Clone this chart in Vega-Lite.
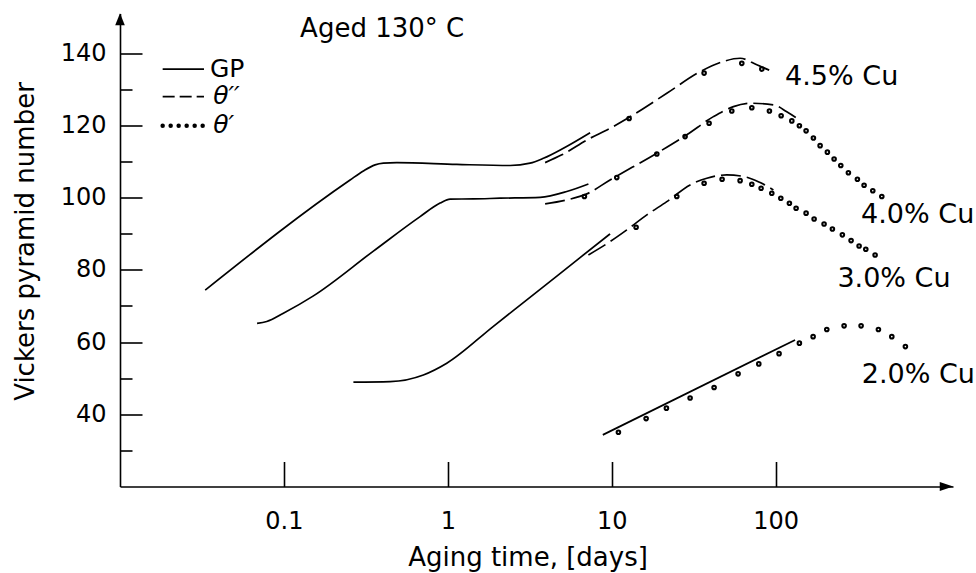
{
  "$schema": "https://vega.github.io/schema/vega-lite/v6.json",
  "width": 833,
  "height": 473,
  "autosize": {"type": "none"},
  "padding": {"left": 120, "top": 13.5, "right": 23, "bottom": 86.5},
  "background": "white",
  "config": {
    "view": {"stroke": null},
    "font": "DejaVu Sans",
    "text": {"font": "DejaVu Sans", "fontSize": 26, "color": "black"}
  },
  "datasets": {
    "curves": [
      {"c": "A", "k": "GP", "x": 0.0331, "y": 74.4},
      {"c": "A", "k": "GP", "x": 0.2534, "y": 104.9},
      {"c": "A", "k": "GP", "x": 0.3055, "y": 107.4},
      {"c": "A", "k": "GP", "x": 0.36, "y": 109.07},
      {"c": "A", "k": "GP", "x": 0.4046, "y": 109.54},
      {"c": "A", "k": "GP", "x": 0.4886, "y": 109.7},
      {"c": "A", "k": "GP", "x": 1.135, "y": 109.2},
      {"c": "A", "k": "GP", "x": 2.4, "y": 108.9},
      {"c": "A", "k": "GP", "x": 3.178, "y": 109.54},
      {"c": "A", "k": "GP", "x": 3.831, "y": 110.9},
      {"c": "A", "k": "GP", "x": 5.074, "y": 113.7},
      {"c": "A", "k": "GP", "x": 7.383, "y": 118.0},
      {"c": "A", "k": "T2", "x": 3.925, "y": 109.7},
      {"c": "A", "k": "T2", "x": 4.962, "y": 111.85},
      {"c": "A", "k": "T2", "x": 7.21, "y": 116.2},
      {"c": "A", "k": "T2", "x": 9.777, "y": 119.2},
      {"c": "A", "k": "T2", "x": 12.95, "y": 122.4},
      {"c": "A", "k": "T2", "x": 21.69, "y": 128.9},
      {"c": "A", "k": "T2", "x": 34.63, "y": 134.9},
      {"c": "A", "k": "T2", "x": 47.83, "y": 137.7},
      {"c": "A", "k": "T2", "x": 60.74, "y": 138.6},
      {"c": "A", "k": "T2", "x": 76.8, "y": 136.8},
      {"c": "A", "k": "T2", "x": 92.55, "y": 135.2},
      {"c": "B", "k": "GP", "x": 0.0686, "y": 65.2},
      {"c": "B", "k": "GP", "x": 0.0786, "y": 65.7},
      {"c": "B", "k": "GP", "x": 0.0993, "y": 68.0},
      {"c": "B", "k": "GP", "x": 0.1514, "y": 72.8},
      {"c": "B", "k": "GP", "x": 0.3516, "y": 85.2},
      {"c": "B", "k": "GP", "x": 0.6776, "y": 94.75},
      {"c": "B", "k": "GP", "x": 0.8974, "y": 98.5},
      {"c": "B", "k": "GP", "x": 1.033, "y": 99.6},
      {"c": "B", "k": "GP", "x": 1.433, "y": 99.65},
      {"c": "B", "k": "GP", "x": 2.085, "y": 99.85},
      {"c": "B", "k": "GP", "x": 3.658, "y": 100.1},
      {"c": "B", "k": "GP", "x": 5.32, "y": 101.7},
      {"c": "B", "k": "GP", "x": 7.21, "y": 103.8},
      {"c": "B", "k": "T2", "x": 3.925, "y": 98.27},
      {"c": "B", "k": "T2", "x": 5.32, "y": 99.37},
      {"c": "B", "k": "T2", "x": 7.05, "y": 101.04},
      {"c": "B", "k": "T2", "x": 9.77, "y": 104.9},
      {"c": "B", "k": "T2", "x": 18.85, "y": 112.3},
      {"c": "B", "k": "T2", "x": 28.7, "y": 117.4},
      {"c": "B", "k": "T2", "x": 41.74, "y": 122.44},
      {"c": "B", "k": "T2", "x": 55.3, "y": 125.2},
      {"c": "B", "k": "T2", "x": 71.6, "y": 126.15},
      {"c": "B", "k": "T2", "x": 96.96, "y": 125.7},
      {"c": "B", "k": "T2", "x": 117, "y": 123.8},
      {"c": "B", "k": "T2", "x": 137.7, "y": 121.7},
      {"c": "C", "k": "GP", "x": 0.2655, "y": 48.9},
      {"c": "C", "k": "GP", "x": 0.4446, "y": 49.06},
      {"c": "C", "k": "GP", "x": 0.7097, "y": 50.9},
      {"c": "C", "k": "GP", "x": 0.986, "y": 54.15},
      {"c": "C", "k": "GP", "x": 1.889, "y": 64.3},
      {"c": "C", "k": "GP", "x": 3.658, "y": 74.6},
      {"c": "C", "k": "GP", "x": 6.414, "y": 83.4},
      {"c": "C", "k": "GP", "x": 9.777, "y": 89.96},
      {"c": "C", "k": "T2", "x": 7.21, "y": 84.14},
      {"c": "C", "k": "T2", "x": 9.777, "y": 87.83},
      {"c": "C", "k": "T2", "x": 12.37, "y": 91.07},
      {"c": "C", "k": "T2", "x": 16.38, "y": 95.22},
      {"c": "C", "k": "T2", "x": 21.69, "y": 98.9},
      {"c": "C", "k": "T2", "x": 30.09, "y": 103.53},
      {"c": "C", "k": "T2", "x": 38.04, "y": 105.38},
      {"c": "C", "k": "T2", "x": 50.39, "y": 106.3},
      {"c": "C", "k": "T2", "x": 66.74, "y": 105.66},
      {"c": "C", "k": "T2", "x": 80.43, "y": 104.17},
      {"c": "C", "k": "T2", "x": 96.96, "y": 102.14},
      {"c": "D", "k": "GP", "x": 8.826, "y": 34.3},
      {"c": "D", "k": "GP", "x": 131.5, "y": 60.6}
    ],
    "dots": [
      {"x": 12.77, "y": 121.9}, {"x": 36.63, "y": 134.5}, {"x": 62.2, "y": 137.2}, {"x": 82.4, "y": 135.6},
      {"x": 6.815, "y": 100.3}, {"x": 10.74, "y": 105.55}, {"x": 18.85, "y": 112.1}, {"x": 28.04, "y": 116.9},
      {"x": 39.3, "y": 120.6}, {"x": 54.05, "y": 124.0}, {"x": 71.6, "y": 124.9}, {"x": 91.7, "y": 124.0},
      {"x": 108.1, "y": 122.7}, {"x": 125.6, "y": 121.25}, {"x": 139.7, "y": 119.9}, {"x": 153.5, "y": 118.5},
      {"x": 170.1, "y": 116.5}, {"x": 186.9, "y": 114.4}, {"x": 207, "y": 112.6}, {"x": 227.5, "y": 110.7},
      {"x": 249.9, "y": 108.9}, {"x": 278.1, "y": 106.9}, {"x": 315.6, "y": 105.1}, {"x": 346.7, "y": 103.45},
      {"x": 391.8, "y": 101.9}, {"x": 444.6, "y": 100.3},
      {"x": 14.09, "y": 91.8}, {"x": 24.96, "y": 100.3}, {"x": 36.63, "y": 104.0}, {"x": 47.17, "y": 105.1},
      {"x": 60.74, "y": 104.7}, {"x": 71.6, "y": 103.7}, {"x": 81.6, "y": 102.6}, {"x": 94.8, "y": 101.2},
      {"x": 107.6, "y": 99.84}, {"x": 121.4, "y": 98.46}, {"x": 133.4, "y": 97.08}, {"x": 153.5, "y": 95.7},
      {"x": 171.8, "y": 94.1}, {"x": 197.6, "y": 92.7}, {"x": 222.1, "y": 91.3}, {"x": 255.5, "y": 89.7},
      {"x": 288.8, "y": 88.1}, {"x": 323.2, "y": 86.6}, {"x": 355.1, "y": 85.7}, {"x": 404.7, "y": 84.1},
      {"x": 10.99, "y": 35.04}, {"x": 16.22, "y": 38.8}, {"x": 21.57, "y": 41.7}, {"x": 30.09, "y": 44.5},
      {"x": 42.15, "y": 47.4}, {"x": 59.05, "y": 51.2}, {"x": 78.98, "y": 53.96}, {"x": 105.0, "y": 56.8},
      {"x": 139.7, "y": 59.7}, {"x": 169.4, "y": 61.5}, {"x": 205.3, "y": 63.5}, {"x": 261.8, "y": 64.5},
      {"x": 332.4, "y": 64.5}, {"x": 424, "y": 63.5}, {"x": 511.7, "y": 61.5}, {"x": 619.4, "y": 58.75}
    ],
    "legend": [
      {"s": "solid", "x": 0.01821, "x2": 0.03254, "y": 135.6},
      {"s": "dash", "x": 0.01821, "x2": 0.03254, "y": 128.0},
      {"s": "dot", "x": 0.01821, "x2": 0.03254, "y": 119.9}
    ],
    "labels": [
      {"t": "Aged 130° C", "x": 0.1256, "y": 144.5, "it": "n"},
      {"t": "GP", "x": 0.0354, "y": 133.35, "it": "g"},
      {"t": "θ′′", "x": 0.037, "y": 125.9, "it": "i"},
      {"t": "θ′", "x": 0.037, "y": 117.8, "it": "i"},
      {"t": "4.5% Cu", "x": 114.3, "y": 131.2, "it": "c"},
      {"t": "4.0% Cu", "x": 332.5, "y": 92.9, "it": "c"},
      {"t": "3.0% Cu", "x": 238.3, "y": 75.35, "it": "c"},
      {"t": "2.0% Cu", "x": 335.7, "y": 48.6, "it": "c"}
    ],
    "arrows": [
      {"a": "up", "x": 0.01, "y": 149.4},
      {"a": "right", "x": 1103, "y": 20}
    ]
  },
  "encoding": {
    "x": {
      "field": "x",
      "type": "quantitative",
      "scale": {"type": "log", "domain": [0.01, 1209], "nice": false},
      "axis": {
        "values": [0.1, 1, 10, 100],
        "format": "~g",
        "grid": false,
        "domainColor": "black",
        "domainWidth": 1.6,
        "tickColor": "black",
        "tickWidth": 1.6,
        "tickSize": -25,
        "labelPadding": 47.6,
        "labelFont": "DejaVu Sans",
        "labelFontSize": 24,
        "labelColor": "black",
        "title": "Aging time, [days]",
        "titleFont": "DejaVu Sans",
        "titleFontSize": 26,
        "titleFontWeight": "normal",
        "titleColor": "black",
        "titleX": 407.5,
        "titleY": 79.3,
        "titleAlign": "center",
        "titleBaseline": "alphabetic"
      }
    },
    "y": {
      "field": "y",
      "type": "quantitative",
      "scale": {"domain": [20, 151], "nice": false, "zero": false},
      "axis": {
        "values": [30, 40, 50, 60, 70, 80, 90, 100, 110, 120, 130, 140],
        "labelExpr": "datum.value % 20 === 0 ? datum.label : ''",
        "tickSize": {"condition": {"test": "datum.value % 20 === 0", "value": -22}, "value": -12},
        "labelPadding": 36,
        "grid": false,
        "domainColor": "black",
        "domainWidth": 1.6,
        "tickColor": "black",
        "tickWidth": 1.6,
        "labelFont": "DejaVu Sans",
        "labelFontSize": 24,
        "labelColor": "black",
        "title": "Vickers pyramid number",
        "titleFont": "DejaVu Sans",
        "titleFontSize": 26,
        "titleFontWeight": "normal",
        "titleColor": "black",
        "titleAngle": -90,
        "titleX": -86.7,
        "titleY": 227.5,
        "titleAlign": "center",
        "titleBaseline": "alphabetic"
      }
    }
  },
  "layer": [
    {
      "data": {"name": "curves"},
      "transform": [{"filter": "datum.k === 'GP'"}],
      "mark": {"type": "line", "interpolate": "monotone", "color": "black", "strokeWidth": 1.7},
      "encoding": {"detail": {"field": "c", "type": "nominal"}}
    },
    {
      "data": {"name": "curves"},
      "transform": [{"filter": "datum.k === 'T2'"}],
      "mark": {"type": "line", "interpolate": "monotone", "color": "black", "strokeWidth": 1.7, "strokeDash": [20, 6]},
      "encoding": {"detail": {"field": "c", "type": "nominal"}}
    },
    {
      "data": {"name": "dots"},
      "mark": {"type": "point", "shape": "circle", "filled": false, "stroke": "black", "strokeWidth": 2, "size": 13, "opacity": 1}
    },
    {
      "data": {"name": "legend"},
      "transform": [{"filter": "datum.s === 'solid'"}],
      "mark": {"type": "rule", "color": "black", "strokeWidth": 1.7},
      "encoding": {"x2": {"field": "x2"}}
    },
    {
      "data": {"name": "legend"},
      "transform": [{"filter": "datum.s === 'dash'"}],
      "mark": {"type": "rule", "color": "black", "strokeWidth": 1.7, "strokeDash": [12, 5]},
      "encoding": {"x2": {"field": "x2"}}
    },
    {
      "data": {"name": "legend"},
      "transform": [{"filter": "datum.s === 'dot'"}],
      "mark": {"type": "rule", "color": "black", "strokeWidth": 4.5, "strokeDash": [0, 8], "strokeCap": "round"},
      "encoding": {"x2": {"field": "x2"}}
    },
    {
      "data": {"name": "labels"},
      "transform": [{"filter": "datum.it === 'n'"}],
      "mark": {"type": "text", "align": "left", "baseline": "alphabetic", "fontSize": 26, "color": "black"},
      "encoding": {"text": {"field": "t"}}
    },
    {
      "data": {"name": "labels"},
      "transform": [{"filter": "datum.it === 'g'"}],
      "mark": {"type": "text", "align": "left", "baseline": "alphabetic", "fontSize": 25, "color": "black"},
      "encoding": {"text": {"field": "t"}}
    },
    {
      "data": {"name": "labels"},
      "transform": [{"filter": "datum.it === 'c'"}],
      "mark": {"type": "text", "align": "left", "baseline": "alphabetic", "fontSize": 27, "color": "black"},
      "encoding": {"text": {"field": "t"}}
    },
    {
      "data": {"name": "labels"},
      "transform": [{"filter": "datum.it === 'i'"}],
      "mark": {"type": "text", "align": "left", "baseline": "alphabetic", "fontSize": 25, "fontStyle": "italic", "color": "black"},
      "encoding": {"text": {"field": "t"}}
    },
    {
      "data": {"name": "arrows"},
      "transform": [{"filter": "datum.a === 'up'"}],
      "mark": {"type": "point", "shape": "M0,-1L0.8,1L-0.8,1Z", "size": 144, "filled": true, "color": "black", "opacity": 1, "strokeWidth": 0}
    },
    {
      "data": {"name": "arrows"},
      "transform": [{"filter": "datum.a === 'right'"}],
      "mark": {"type": "point", "shape": "M1,0L-1,-0.67L-1,0.67Z", "size": 180, "filled": true, "color": "black", "opacity": 1, "strokeWidth": 0}
    }
  ]
}
